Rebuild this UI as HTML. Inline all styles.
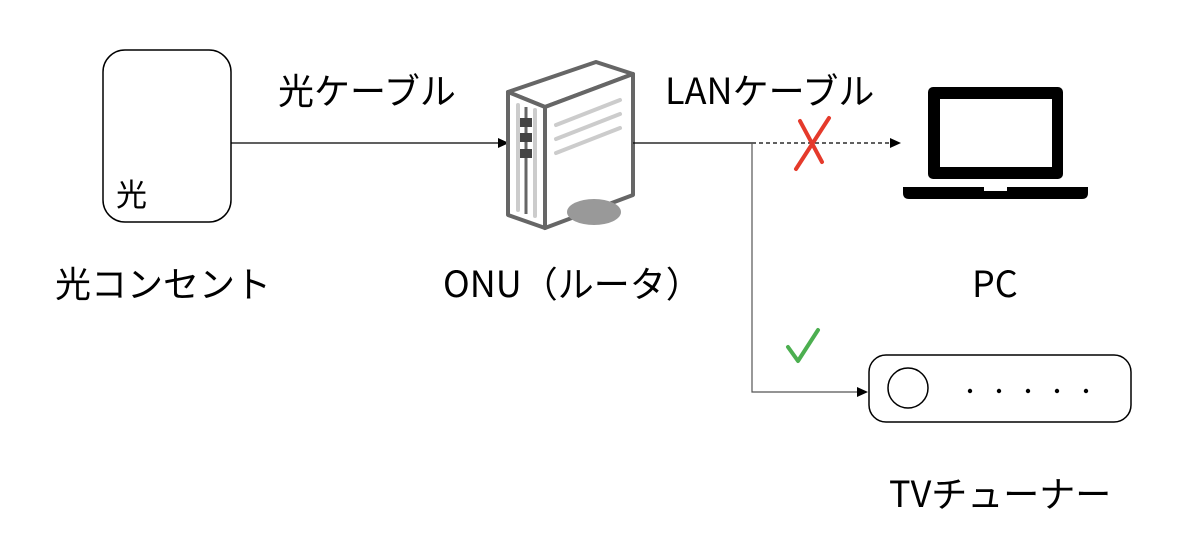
<!DOCTYPE html>
<html><head><meta charset="utf-8"><style>
body{margin:0;background:#fff}
svg{display:block}
text{font-family:"Noto Sans CJK JP","Liberation Sans",sans-serif;font-size:36px;fill:#000}
</style></head><body>
<svg width="1200" height="549" viewBox="0 0 1200 549">
<rect x="103" y="50" width="128" height="172" rx="22" fill="#fff" stroke="#000" stroke-width="1.5"/>
<text x="116" y="206" style="font-size:31px">光</text>
<line x1="231" y1="143" x2="500" y2="143" stroke="#000" stroke-width="1.2"/>
<path d="M498,138L509,143L498,148z" fill="#000"/>
<text x="278" y="104">光ケーブル</text>
<text x="55" y="297">光コンセント</text>
<g stroke="#666" stroke-width="4" stroke-linejoin="round">
<polygon points="508,92 596,62 633,74 545,107" fill="#fff"/>
<polygon points="545,107 633,74 633,195 545,228" fill="#fff"/>
<polygon points="508,92 545,107 545,228 508,215" fill="#fff"/>
</g>
<g stroke="#ccc" stroke-width="4" stroke-linecap="round">
<line x1="556" y1="125" x2="620" y2="100"/><line x1="556" y1="139" x2="620" y2="114"/><line x1="556" y1="153" x2="620" y2="128"/>
<line x1="518" y1="105" x2="518" y2="210"/><line x1="535" y1="110" x2="535" y2="216"/>
</g>
<line x1="526" y1="107" x2="526" y2="214" stroke="#666" stroke-width="3"/>
<g fill="#444"><rect x="520" y="118" width="12" height="9"/><rect x="520" y="133" width="12" height="9"/><rect x="520" y="149" width="12" height="9"/></g>
<ellipse cx="594" cy="212" rx="27" ry="13" fill="#999"/>
<text x="443" y="297">ONU（ルータ）</text>
<text x="665" y="104">LANケーブル</text>
<line x1="633" y1="143" x2="752" y2="143" stroke="#000" stroke-width="1.2"/>
<line x1="752" y1="143" x2="890" y2="143" stroke="#000" stroke-width="1.2" stroke-dasharray="4,3"/>
<path d="M890,138L901,143L890,148z" fill="#000"/>
<polyline points="752,143 752,392 858,392" fill="none" stroke="#555" stroke-width="1.2"/>
<path d="M857,387L868,392L857,397z" fill="#000"/>
<g stroke="#e53a2b" stroke-width="4" stroke-linecap="round"><line x1="829" y1="118" x2="796" y2="169"/><line x1="800" y1="121" x2="822" y2="162"/></g>
<polyline points="788,347 798,361 818,330" fill="none" stroke="#4caf50" stroke-width="4" stroke-linecap="round" stroke-linejoin="round"/>
<rect x="928" y="87" width="135" height="92" rx="5" fill="#000"/>
<rect x="940" y="99" width="112" height="68" fill="#fff"/>
<path d="M903,187H1088V193Q1088,199 1082,199H909Q903,199 903,193Z" fill="#000"/>
<rect x="984" y="187" width="23" height="4" fill="#fff"/>
<text x="972" y="297">PC</text>
<rect x="869" y="355" width="262" height="67" rx="17" fill="#fff" stroke="#000" stroke-width="1.5"/>
<circle cx="908" cy="388" r="20" fill="#fff" stroke="#000" stroke-width="1.5"/>
<g fill="#000"><circle cx="970" cy="391" r="2.2"/><circle cx="999" cy="391" r="2.2"/><circle cx="1028" cy="391" r="2.2"/><circle cx="1057" cy="391" r="2.2"/><circle cx="1086" cy="391" r="2.2"/></g>
<text x="889" y="507">TVチューナー</text>
</svg>
</body></html>
